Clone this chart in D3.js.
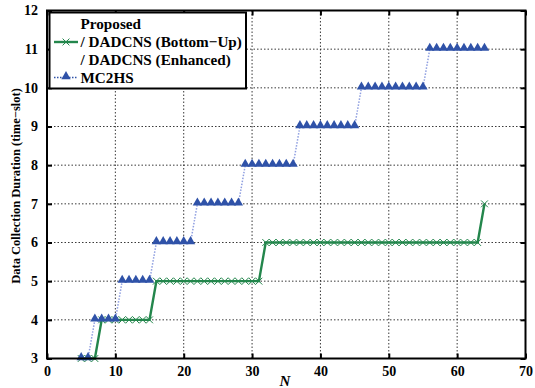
<!DOCTYPE html>
<html>
<head>
<meta charset="utf-8">
<script src="https://cdn.jsdelivr.net/npm/d3@7"></script>
<style>
  body { margin: 0; background: #fff; }
  svg text { font-family: "Liberation Serif", "Times New Roman", Times, serif; font-weight: bold; }
</style>
</head>
<body>
<div id="chart"></div>
<script>
// network sizes N
var nValues = d3.range(5, 65);

// MC2HS duration per N (steps at triangular numbers)
var mc2hsSteps = [
  { from: 5, to: 6, value: 3 },
  { from: 7, to: 10, value: 4 },
  { from: 11, to: 15, value: 5 },
  { from: 16, to: 21, value: 6 },
  { from: 22, to: 28, value: 7 },
  { from: 29, to: 36, value: 8 },
  { from: 37, to: 45, value: 9 },
  { from: 46, to: 55, value: 10 },
  { from: 56, to: 64, value: 11 }
];

// Proposed / DADCNS duration per N
var proposedSteps = [
  { from: 5, to: 7, value: 3 },
  { from: 8, to: 15, value: 4 },
  { from: 16, to: 31, value: 5 },
  { from: 32, to: 63, value: 6 },
  { from: 64, to: 64, value: 7 }
];

var xTicks = [0, 10, 20, 30, 40, 50, 60, 70];
var yTicks = [3, 4, 5, 6, 7, 8, 9, 10, 11, 12];

var legendLabels = ["Proposed", "/ DADCNS (Bottom\u2212Up)", "/ DADCNS (Enhanced)", "MC2HS"];

function expand(steps) {
  var out = [];
  steps.forEach(function(s) {
    nValues.forEach(function(n) {
      if (n >= s.from && n <= s.to) out.push({ n: n, v: s.value });
    });
  });
  return out;
}

var mc2hsData = expand(mc2hsSteps);
var proposedData = expand(proposedSteps);

var serif = "'Liberation Serif', 'Times New Roman', serif";

var svgWidth = 535, svgHeight = 388;
var margin = { top: 10.5, right: 9.5, bottom: 29.5, left: 47 };
var width = svgWidth - margin.left - margin.right;
var height = svgHeight - margin.top - margin.bottom;

var svg = d3.select("#chart").append("svg")
  .attr("width", svgWidth)
  .attr("height", svgHeight)
  .attr("font-family", serif);

var chartGroup = svg.append("g")
  .attr("transform", `translate(${margin.left}, ${margin.top})`);

var x = d3.scaleLinear().domain([0, 70]).range([0, width]);
var y = d3.scaleLinear().domain([3, 12]).range([height, 0]);

// grid
chartGroup.append("g").selectAll("line")
  .data(xTicks.slice(1, -1))
  .enter().append("line")
  .attr("x1", d => x(d)).attr("x2", d => x(d))
  .attr("y1", 0).attr("y2", height)
  .attr("stroke", "#222").attr("stroke-width", 0.9)
  .attr("stroke-dasharray", "1.5,2");

chartGroup.append("g").selectAll("line")
  .data(yTicks.slice(1, -1))
  .enter().append("line")
  .attr("x1", 0).attr("x2", width)
  .attr("y1", d => y(d)).attr("y2", d => y(d))
  .attr("stroke", "#222").attr("stroke-width", 0.9)
  .attr("stroke-dasharray", "1.5,2");

// axes
var bottomAxis = d3.axisBottom(x).tickValues(xTicks).tickSize(-5).tickPadding(8);
var topAxis = d3.axisTop(x).tickValues(xTicks).tickSize(-5).tickFormat("");
var leftAxis = d3.axisLeft(y).tickValues(yTicks).tickSize(-5).tickPadding(9);
var rightAxis = d3.axisRight(y).tickValues(yTicks).tickSize(-5).tickFormat("");

function styleAxis(g) {
  g.attr("font-family", serif);
  g.select(".domain").remove();
  g.selectAll(".tick line").attr("stroke", "#000").attr("stroke-width", 2);
  g.selectAll(".tick text").attr("fill", "#000")
    .attr("font-family", serif).attr("font-weight", "bold").attr("font-size", 14);
}

chartGroup.append("g").attr("transform", `translate(0, ${height})`).call(bottomAxis).call(styleAxis);
chartGroup.append("g").call(topAxis).call(styleAxis);
chartGroup.append("g").call(leftAxis).call(styleAxis);
chartGroup.append("g").attr("transform", `translate(${width}, 0)`).call(rightAxis).call(styleAxis);

var line = d3.line().x(d => x(d.n)).y(d => y(d.v));
var blue = "#2f52a8";
var green = "#23864c";

// MC2HS dotted line
chartGroup.append("path")
  .datum(mc2hsData)
  .attr("d", line)
  .attr("fill", "none")
  .attr("stroke", "#8e9ee0")
  .attr("stroke-width", 1.5)
  .attr("stroke-dasharray", "1.5,1.5");

var tri = d3.symbol().type(d3.symbolTriangle).size(38);

// Proposed solid line
chartGroup.append("path")
  .datum(proposedData)
  .attr("d", line)
  .attr("fill", "none")
  .attr("stroke", green)
  .attr("stroke-width", 2.4);

var star = d3.symbol().type(d3.symbolTimes).size(32);
chartGroup.append("g").selectAll("path")
  .data(proposedData)
  .enter().append("path")
  .attr("transform", d => `translate(${x(d.n)}, ${y(d.v)})`)
  .attr("d", star)
  .attr("fill", green)
  .attr("stroke", green)
  .attr("stroke-width", 1);

chartGroup.append("g").selectAll("path")
  .data(mc2hsData)
  .enter().append("path")
  .attr("transform", d => `translate(${x(d.n)}, ${y(d.v) - 1})`)
  .attr("d", tri)
  .attr("fill", blue);

// frame
chartGroup.append("rect")
  .attr("width", width).attr("height", height)
  .attr("fill", "none").attr("stroke", "#000").attr("stroke-width", 2);

// axis labels
svg.append("text")
  .attr("x", 285).attr("y", 386)
  .attr("text-anchor", "middle")
  .attr("font-style", "italic")
  .attr("font-size", 15)
  .text("N");

svg.append("text")
  .attr("transform", `translate(20, 186) rotate(-90)`)
  .attr("text-anchor", "middle")
  .attr("font-size", 12.5)
  .text("Data Collection Duration (time\u2212slot)");

// legend
var legend = svg.append("g");
legend.append("rect")
  .attr("x", 49.5).attr("y", 12.5)
  .attr("width", 196.5).attr("height", 76)
  .attr("fill", "#fff").attr("stroke", "#000").attr("stroke-width", 2);

legend.selectAll("text.leg")
  .data(legendLabels)
  .enter().append("text")
  .attr("class", "leg")
  .attr("x", 80.5)
  .attr("y", (d, i) => 29 + i * 18)
  .attr("font-size", 15.2)
  .text(d => d);

legend.append("line")
  .attr("x1", 54).attr("x2", 78).attr("y1", 42).attr("y2", 42)
  .attr("stroke", green).attr("stroke-width", 2.4);
legend.append("path")
  .attr("transform", "translate(66, 42)")
  .attr("d", star)
  .attr("fill", green).attr("stroke", green).attr("stroke-width", 1);

legend.append("line")
  .attr("x1", 54).attr("x2", 78).attr("y1", 77.5).attr("y2", 77.5)
  .attr("stroke", blue).attr("stroke-width", 1.5)
  .attr("stroke-dasharray", "1.5,1.5");
legend.append("path")
  .attr("transform", "translate(66, 76.5)")
  .attr("d", tri)
  .attr("fill", blue);
</script>
</body>
</html>
